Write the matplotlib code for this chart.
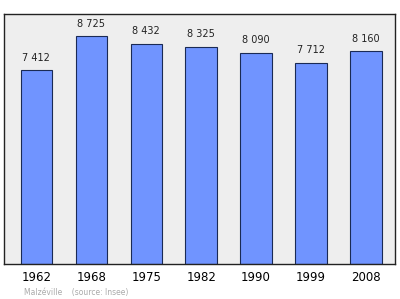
import matplotlib
matplotlib.use("Agg")
import matplotlib.pyplot as plt

years = ["1962", "1968", "1975", "1982", "1990", "1999", "2008"]
population = [7412, 8725, 8432, 8325, 8090, 7712, 8160]
labels = ["7 412", "8 725", "8 432", "8 325", "8 090", "7 712", "8 160"]

fig = plt.figure(figsize=(4, 2.99), dpi=100)
ax = fig.add_axes([0.01, 0.117, 0.9775, 0.836])
ax.set_facecolor("#eeeeee")

x = range(len(years))
ax.bar(x, population, width=0.57, color="#7094ff", edgecolor="#1a2a55", linewidth=0.8)
for i, v in enumerate(population):
    ax.text(i, v + 280, labels[i], ha="center", va="bottom", fontsize=7, color="#222222")

ax.set_xlim(-0.59, 6.53)
ax.set_ylim(0, 9570)
ax.set_yticks([])
ax.set_xticks(list(x))
ax.set_xticklabels(years, fontsize=8.5)
ax.tick_params(axis="x", length=0, pad=5)
for s in ax.spines.values():
    s.set_linewidth(1.0)
    s.set_color("#222222")

fig.text(0.06, 0.012, "Malzéville    (source: Insee)", fontsize=5.5, color="#aaaaaa")

fig.savefig("out.png", dpi=100)
